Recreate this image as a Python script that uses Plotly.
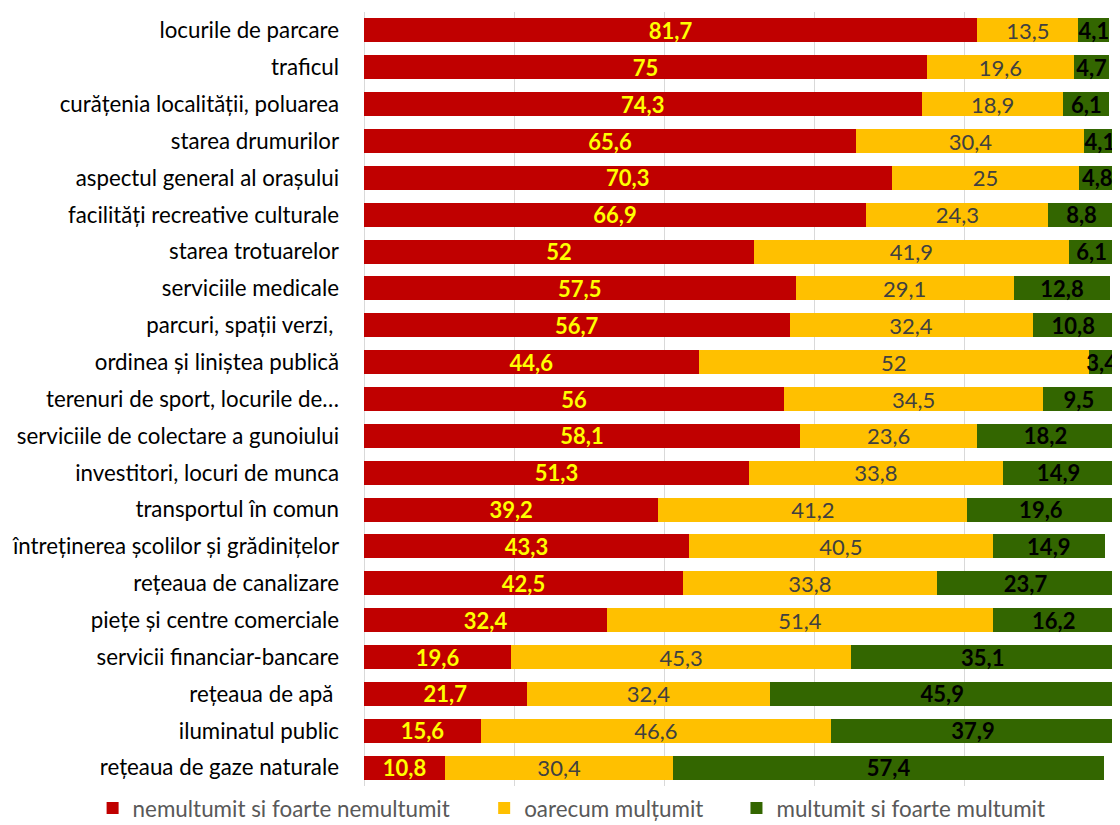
import plotly.graph_objects as go

categories = [
    "locurile de parcare", "traficul", "curățenia localității, poluarea",
    "starea drumurilor", "aspectul general al orașului",
    "facilități recreative culturale", "starea trotuarelor",
    "serviciile medicale", "parcuri, spații verzi, ",
    "ordinea și liniștea publică", "terenuri de sport, locurile de…",
    "serviciile de colectare a gunoiului", "investitori, locuri de munca",
    "transportul în comun", "întreținerea școlilor și grădinițelor",
    "rețeaua de canalizare", "piețe și centre comerciale",
    "servicii financiar-bancare", "rețeaua de apă ", "iluminatul public",
    "rețeaua de gaze naturale",
]
nemultumit = [81.7, 75, 74.3, 65.6, 70.3, 66.9, 52, 57.5, 56.7, 44.6, 56,
              58.1, 51.3, 39.2, 43.3, 42.5, 32.4, 19.6, 21.7, 15.6, 10.8]
oarecum = [13.5, 19.6, 18.9, 30.4, 25, 24.3, 41.9, 29.1, 32.4, 52, 34.5,
           23.6, 33.8, 41.2, 40.5, 33.8, 51.4, 45.3, 32.4, 46.6, 30.4]
multumit = [4.1, 4.7, 6.1, 4.1, 4.8, 8.8, 6.1, 12.8, 10.8, 3.4, 9.5,
            18.2, 14.9, 19.6, 14.9, 23.7, 16.2, 35.1, 45.9, 37.9, 57.4]
series_names = ["nemultumit si foarte nemultumit", "oarecum mulțumit",
                "multumit si foarte multumit"]


def fmt(v):
    return f"{v:g}".replace(".", ",")


FONT = "Lato"
SZ = 22
series = [
    (series_names[0], nemultumit, "#C00000", dict(color="#FFFF00", size=SZ, family=FONT), True, "legend"),
    (series_names[1], oarecum, "#FFC000", dict(color="#404040", size=SZ, family=FONT), False, "legend2"),
    (series_names[2], multumit, "#336600", dict(color="#000000", size=SZ, family=FONT), True, "legend3"),
]

fig = go.Figure()
for name, vals, color, tfont, bold, leg in series:
    txt = [("<b>%s</b>" % fmt(v)) if bold else fmt(v) for v in vals]
    fig.add_trace(go.Bar(
        y=categories, x=vals, name=name, orientation="h",
        marker=dict(color=color, line=dict(width=0)),
        text=txt, textposition="inside", insidetextanchor="middle",
        constraintext="none", textangle=0,
        textfont=tfont, cliponaxis=False, legend=leg,
    ))

leg_common = dict(orientation="h", xanchor="left", y=-0.029, yanchor="middle",
                  font=dict(size=22.4, color="#595959"), itemwidth=30,
                  bgcolor="rgba(0,0,0,0)")

# page has an 8px body margin, so the figure is drawn 8px smaller and offset
fig.update_layout(
    barmode="stack", bargap=0.35,
    width=1112, height=817,
    margin=dict(l=356, r=4, t=4, b=39, autoexpand=False),
    plot_bgcolor="white", paper_bgcolor="white",
    font=dict(family=FONT, size=SZ, color="#000000"),
    showlegend=True,
    legend=dict(x=-0.3609, **leg_common),
    legend2=dict(x=0.1598, **leg_common),
    legend3=dict(x=0.4953, **leg_common),
    xaxis=dict(range=[0, 100.2], dtick=20, showticklabels=False,
               showgrid=True, gridcolor="#D9D9D9", gridwidth=1,
               zeroline=True, zerolinecolor="#D9D9D9", zerolinewidth=1,
               fixedrange=True, automargin=False),
    yaxis=dict(autorange="reversed", showgrid=False, ticks="",
               ticklabelstandoff=24, automargin=False,
               tickfont=dict(size=22.3, color="#000000")),
    uniformtext=dict(mode=False),
)

fig.write_html("out.html")
